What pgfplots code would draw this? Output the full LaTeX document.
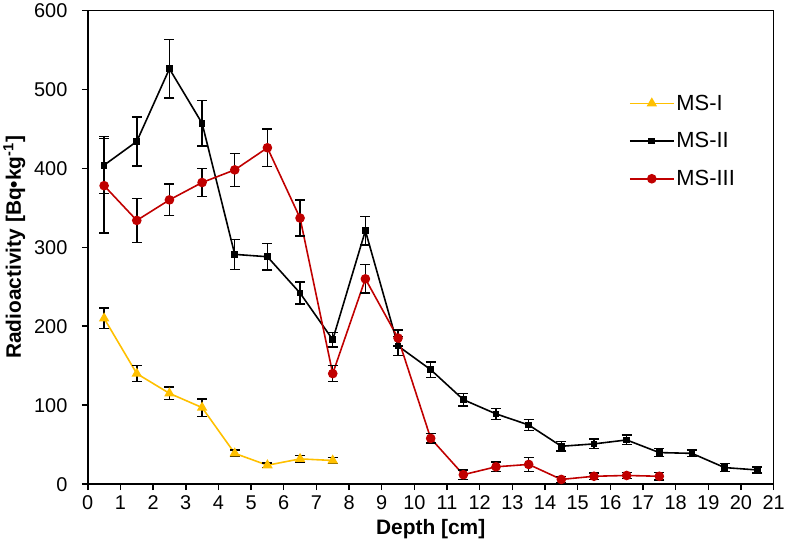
\documentclass[border=0pt]{standalone}
\usepackage{fontspec}
\setmainfont{Liberation Sans}
\usepackage{pgfplots}
\pgfplotsset{compat=1.18}
\usepackage{pgfplotstable}
\definecolor{msone}{RGB}{255,192,0}
\definecolor{msthree}{RGB}{192,0,0}

\pgfplotstableread{
x y e
0.5 210 13
1.5 140 10
2.5 115 8
3.5 97 11
4.5 39 4
5.5 24 3
6.5 32 4
7.5 30 4
}\msI

\pgfplotstableread{
x y e
0.5 404 36
1.5 434 31
2.5 526 37
3.5 457 29
4.5 291 19
5.5 288 17
6.5 242 14
7.5 183 9
8.5 321 18
9.5 175 12
10.5 145 10
11.5 107 8
12.5 89 7
13.5 75 7
14.5 48 6
15.5 51 6
16.5 56 6
17.5 40 5
18.5 39 4
19.5 21 5
20.5 18 4
}\msII

\pgfplotstableread{
x y e
0.5 378 60
1.5 334 28
2.5 360 20
3.5 382 18
4.5 398 21
5.5 426 24
6.5 337 23
7.5 140 10
8.5 260 18
9.5 185 10
10.5 58 6
11.5 12 6
12.5 22 6
13.5 25 9
14.5 6 4
15.5 10 4
16.5 11 4
17.5 10 5
}\msIII

\begin{document}
\begin{tikzpicture}
\begin{axis}[
  scale only axis,
  width=689pt, height=476pt,
  xmin=0, xmax=21, ymin=0, ymax=600,
  xtick={0,1,...,21}, ytick={0,100,...,600},
  axis line style={line width=1.5pt},
  every tick/.style={black, line width=1.5pt},
  tick align=outside, major tick length=6pt,
  xtick pos=bottom, ytick pos=left,
  /pgf/number format/assume math mode=true,
  ticklabel style={font=\fontsize{20}{24}\selectfont},
  xticklabel style={yshift=-2pt},
  yticklabel style={xshift=-11pt},
  xlabel={\textbf{Depth [cm]}},
  ylabel={\textbf{Radioactivity [Bq•kg\textsuperscript{-1}]}},
  label style={font=\fontsize{21}{24}\selectfont},
  xlabel style={yshift=-3pt},
  ylabel style={yshift=2pt},
  legend style={draw=none, fill=none, at={(0.789,0.826)}, anchor=north west,
    inner sep=0pt, row sep=17pt, font=\fontsize{22}{24}\selectfont,
    /tikz/every even column/.append style={column sep=0pt}},
  legend cell align=left,
  legend image code/.code={\draw[mark repeat=2,mark phase=2,#1] plot coordinates {(0pt,0pt) (22pt,0pt) (44pt,0pt)};},
  error bars/y dir=both, error bars/y explicit,
  error bars/error bar style={black, line width=1.5pt},
  error bars/error mark options={rotate=90, black, mark size=5pt, line width=1.5pt},
]
\addplot[msone, line width=1.6pt, mark=triangle*, mark size=4.5pt, mark options={solid}]
  table[x=x, y=y, y error=e] {\msI};
\addlegendentry{MS-I}
\addplot[black, line width=1.6pt, mark=square*, mark size=2.6pt]
  table[x=x, y=y, y error=e] {\msII};
\addlegendentry{MS-II}
\addplot[msthree, line width=1.6pt, mark=*, mark size=4pt]
  table[x=x, y=y, y error=e] {\msIII};
\addlegendentry{MS-III}
\end{axis}
\end{tikzpicture}
\end{document}
